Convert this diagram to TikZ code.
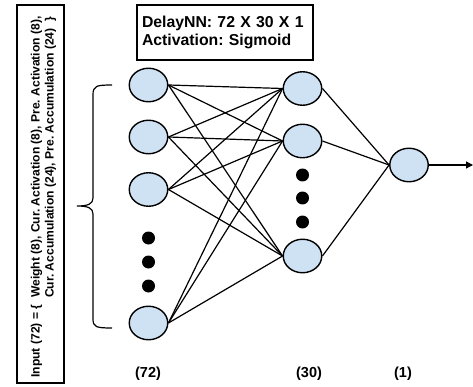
\documentclass[tikz,border=0pt]{standalone}
\usepackage{fontspec}
\setmainfont{Liberation Sans}
\usetikzlibrary{arrows.meta}
\usetikzlibrary{shapes.geometric}
\definecolor{nfill}{HTML}{CFE2F3}
\tikzset{
  neuron/.style={ellipse, draw=black, fill=nfill, line width=1.4pt, minimum width=38.5pt, minimum height=33.5pt, inner sep=0pt},
  conn/.style={draw=black, line width=1.2pt},
  dotn/.style={circle, fill=black, minimum size=13pt, inner sep=0pt},
  lbl/.style={font=\fontsize{14.5}{16}\selectfont\bfseries},
}
\begin{document}
\frenchspacing
\begin{tikzpicture}[x=1pt,y=-1pt]
\useasboundingbox (0,0) rectangle (473,387);
% left text box
\draw[line width=1.2pt] (17,5) rectangle (64,383);
\node[rotate=90, align=left, inner sep=0pt, font=\fontsize{12.1}{14}\selectfont\bfseries] (inp) at (43.5,197)
 {Input (72) = \{\ \ Weight (8), Cur. Activation (8), Pre. Activation (8),\\
  \hphantom{Input (72) = \{\ \ }Cur. Accumulation (24), Pre. Accumulation (24)\ \ \}};
% top box
\node[draw, line width=1.2pt, minimum width=176pt, minimum height=55pt, text width=166pt, align=left, inner sep=0pt,
      font=\fontsize{15.8}{18}\selectfont\bfseries] (cfg) at (225,32.5)
 {DelayNN: 72 X 30 X 1\\Activation: Sigmoid};
% neurons
\node[neuron] (i1) at (148.5,85) {};
\node[neuron] (i2) at (148.5,137) {};
\node[neuron] (i3) at (148.5,189.5) {};
\node[neuron] (i4) at (148.5,323) {};
\node[dotn] (d1) at (148.5,238) {};
\node[dotn] (d2) at (148.5,262) {};
\node[dotn] (d3) at (148.5,286) {};
\node[neuron] (h1) at (302.5,88.5) {};
\node[neuron] (h2) at (302.5,141) {};
\node[neuron] (h3) at (302.5,256) {};
\node[dotn] (e1) at (302.5,175) {};
\node[dotn] (e2) at (302.5,198) {};
\node[dotn] (e3) at (302.5,222) {};
\node[neuron] (o1) at (409,165) {};
\coordinate (out) at (473,165);
% connections
\foreach \i in {i1,i2,i3,i4}
  \foreach \h in {h1,h2,h3}
    \draw[conn] (\i.east) -- (\h.west);
\foreach \h in {h1,h2,h3}
  \draw[conn] (\h.east) -- (o1.west);
\draw[conn, -{Triangle[length=7pt,width=7pt]}] (o1.east) -- (out);
% brace
\draw[line width=1.2pt] (112,85) .. controls (96,85) and (93,86) .. (93,95) -- (93,198)
  .. controls (93,204) and (88,206) .. (77,206)
  .. controls (88,206) and (93,208) .. (93,214) -- (93,319)
  .. controls (93,327) and (96,328) .. (112,328);
% labels
\node[lbl] (l72) at (148,374) {(72)};
\node[lbl] (l30) at (309,374) {(30)};
\node[lbl] (l1) at (403,374) {(1)};
\end{tikzpicture}
\end{document}
